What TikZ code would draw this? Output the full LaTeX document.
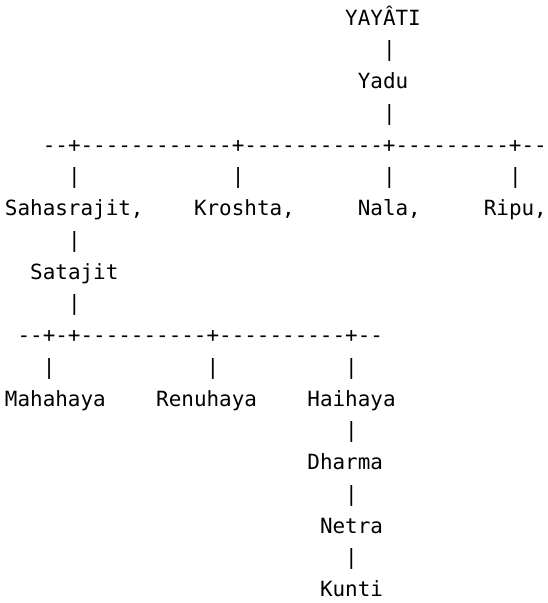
\documentclass[tikz,border=0pt]{standalone}
\usepackage{fontspec}
\setmonofont{DejaVu Sans Mono}
\begin{document}
\begin{tikzpicture}[x=12.6pt,y=-31.76pt]
\tikzset{asc/.style={font=\ttfamily\fontsize{20.93pt}{25pt}\selectfont,inner sep=0pt,outer sep=0pt,anchor=base west,text=black}}
\useasboundingbox[fill=white] (0pt,0pt) rectangle (547pt,-603pt);
\begin{scope}[shift={(5.0pt,-25pt)}]
% row 0-3
\node[asc] (yayati) at (27,0) {YAYÂTI};
\node[asc] (v01) at (30,1) {|};
\node[asc] (yadu) at (28,2) {Yadu};
\node[asc] (v02) at (30,3) {|};
% row 4: first bar
\node[asc] (bar1) at (3,4) {--+------------+-----------+---------+--};
\node[asc] (v1a) at (5,5) {|};
\node[asc] (v1b) at (18,5) {|};
\node[asc] (v1c) at (30,5) {|};
\node[asc] (v1d) at (40,5) {|};
% row 6
\node[asc] (sahasrajit) at (0,6) {Sahasrajit,};
\node[asc] (kroshta) at (15,6) {Kroshta,};
\node[asc] (nala) at (28,6) {Nala,};
\node[asc] (ripu) at (38,6) {Ripu,};
\node[asc] (v03) at (5,7) {|};
\node[asc] (satajit) at (2,8) {Satajit};
\node[asc] (v04) at (5,9) {|};
% row 10: second bar
\node[asc] (bar2) at (1,10) {--+-+----------+----------+--};
\node[asc] (v2a) at (3,11) {|};
\node[asc] (v2b) at (16,11) {|};
\node[asc] (v2c) at (27,11) {|};
% row 12
\node[asc] (mahahaya) at (0,12) {Mahahaya};
\node[asc] (renuhaya) at (12,12) {Renuhaya};
\node[asc] (haihaya) at (24,12) {Haihaya};
\node[asc] (v05) at (27,13) {|};
\node[asc] (dharma) at (24,14) {Dharma};
\node[asc] (v06) at (27,15) {|};
\node[asc] (netra) at (25,16) {Netra};
\node[asc] (v07) at (27,17) {|};
\node[asc] (kunti) at (25,18) {Kunti};
\end{scope}
\end{tikzpicture}
\end{document}
